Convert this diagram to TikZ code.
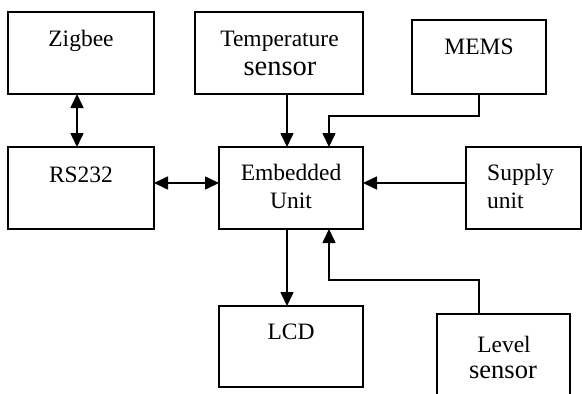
\documentclass[tikz,border=0pt]{standalone}
\usepackage{fontspec}
\setmainfont{Liberation Serif}
\usetikzlibrary{arrows.meta}
\begin{document}
\begin{tikzpicture}[x=1pt,y=-1pt,
  box/.style={draw, line width=1.7pt, inner sep=0pt, outer sep=0pt, rectangle},
  txt/.style={inner sep=0pt, anchor=base, font=\fontsize{23.5}{28}\selectfont},
  conn/.style={line width=1.6pt, -{Triangle[length=14pt,width=13pt]}},
  bconn/.style={line width=1.6pt, {Triangle[length=14pt,width=13pt]}-{Triangle[length=14pt,width=13pt]}}]
\useasboundingbox (0,0) rectangle (582,394);
\clip (0,0) rectangle (582,394);
% boxes
\node[box, minimum width=146pt, minimum height=82pt] (zig) at (81,53) {};
\node[box, minimum width=168pt, minimum height=82pt] (temp) at (279,53) {};
\node[box, minimum width=134pt, minimum height=74pt] (mems) at (479,57) {};
\node[box, minimum width=146pt, minimum height=82pt] (rs) at (81,188) {};
\node[box, minimum width=144pt, minimum height=82pt] (emb) at (291,188) {};
\node[box, minimum width=115pt, minimum height=82pt] (sup) at (523.5,188) {};
\node[box, minimum width=144pt, minimum height=81pt] (lcd) at (291,346.5) {};
\node[box, minimum width=133pt, minimum height=96pt] (lev) at (503.5,362) {};
% texts
\node[txt] (zigT) at (81,46) {Zigbee};
\node[txt] (tempT1) at (279.5,46) {Temperature};
\node[txt, font=\fontsize{28.5}{32}\selectfont] (tempT2) at (280,75) {sensor};
\node[txt] (memsT) at (479,54) {MEMS};
\node[txt] (rsT) at (81,182) {RS232};
\node[txt] (embT1) at (291,180) {Embedded};
\node[txt] (embT2) at (291,208) {Unit};
\node[txt, anchor=base west] (supT1) at (487,180) {Supply};
\node[txt, anchor=base west] (supT2) at (487,208) {unit};
\node[txt] (lcdT) at (291,339) {LCD};
\node[txt] (levT1) at (504,352) {Level};
\node[txt, font=\fontsize{26.5}{30}\selectfont] (levT2) at (503,378) {sensor};
% connectors
\draw[bconn] ([xshift=-4pt]zig.south) -- ([xshift=-4pt]rs.north);
\draw[conn] ([xshift=8pt]temp.south) -- ([xshift=-4pt]emb.north);
\draw[conn] (mems.south) -- ++(0,22) -| ([xshift=38pt]emb.north);
\draw[bconn] ([yshift=5pt]rs.east) -- ([yshift=5pt]emb.west);
\draw[conn] ([yshift=5pt]sup.west) -- ([yshift=5pt]emb.east);
\draw[conn] ([xshift=-4pt]emb.south) -- ([xshift=-4pt]lcd.north);
\draw[conn] ([xshift=-24.5pt]lev.north) -- ++(0,-34) -| ([xshift=38pt]emb.south);
\end{tikzpicture}
\end{document}
